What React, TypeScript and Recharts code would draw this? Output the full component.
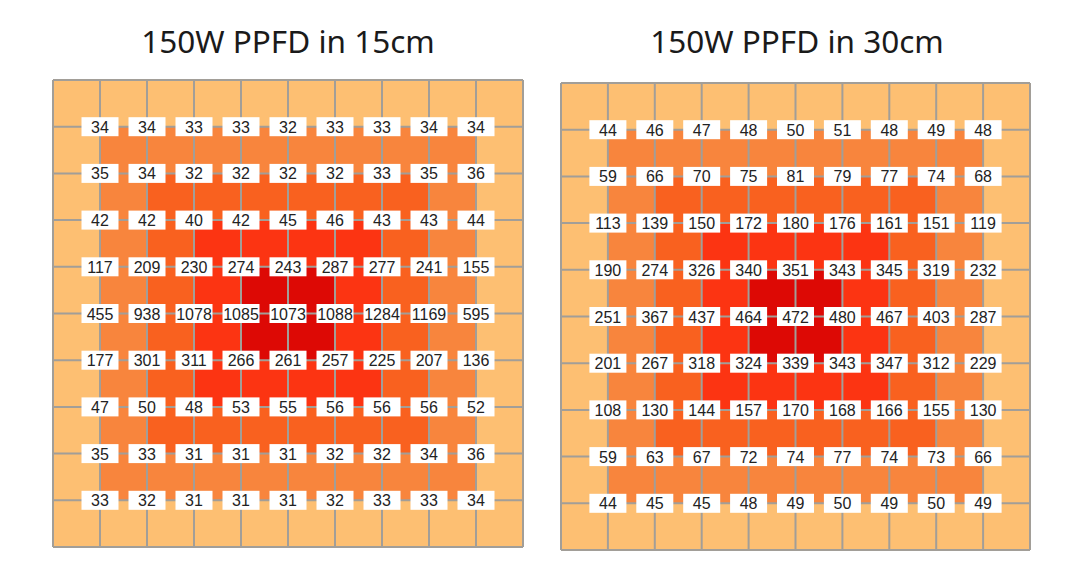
import React from 'react';
import { ScatterChart, XAxis, YAxis, ReferenceArea, ReferenceLine, Scatter } from 'recharts';

// Titles
const TITLES = ['150W PPFD in 15cm', '150W PPFD in 30cm'];

// Grid boundaries (data units)
const GRID_LINES = [0, 1, 2, 3, 4, 5, 6, 7, 8, 9, 10];

// PPFD readings at the interior intersections, rows top -> bottom
const VALUES_15CM = [
  [34, 34, 33, 33, 32, 33, 33, 34, 34],
  [35, 34, 32, 32, 32, 32, 33, 35, 36],
  [42, 42, 40, 42, 45, 46, 43, 43, 44],
  [117, 209, 230, 274, 243, 287, 277, 241, 155],
  [455, 938, 1078, 1085, 1073, 1088, 1284, 1169, 595],
  [177, 301, 311, 266, 261, 257, 225, 207, 136],
  [47, 50, 48, 53, 55, 56, 56, 56, 52],
  [35, 33, 31, 31, 31, 32, 32, 34, 36],
  [33, 32, 31, 31, 31, 32, 33, 33, 34],
];

const VALUES_30CM = [
  [44, 46, 47, 48, 50, 51, 48, 49, 48],
  [59, 66, 70, 75, 81, 79, 77, 74, 68],
  [113, 139, 150, 172, 180, 176, 161, 151, 119],
  [190, 274, 326, 340, 351, 343, 345, 319, 232],
  [251, 367, 437, 464, 472, 480, 467, 403, 287],
  [201, 267, 318, 324, 339, 343, 347, 312, 229],
  [108, 130, 144, 157, 170, 168, 166, 155, 130],
  [59, 63, 67, 72, 74, 77, 74, 73, 66],
  [44, 45, 45, 48, 49, 50, 49, 50, 49],
];

// Colour level of each background cell (10 x 10)
const LEVELS_15CM = [
  [0, 0, 0, 0, 0, 0, 0, 0, 0, 0],
  [0, 1, 1, 1, 1, 1, 1, 1, 1, 0],
  [0, 1, 2, 2, 2, 2, 2, 2, 1, 0],
  [0, 1, 2, 3, 3, 3, 3, 2, 1, 0],
  [0, 1, 2, 3, 4, 4, 3, 2, 1, 0],
  [0, 1, 2, 3, 4, 4, 3, 2, 1, 0],
  [0, 1, 2, 3, 3, 3, 3, 2, 1, 0],
  [0, 1, 2, 2, 2, 2, 2, 2, 1, 0],
  [0, 1, 1, 1, 1, 1, 1, 1, 1, 0],
  [0, 0, 0, 0, 0, 0, 0, 0, 0, 0],
];

const LEVELS_30CM = [
  [0, 0, 0, 0, 0, 0, 0, 0, 0, 0],
  [0, 1, 1, 1, 1, 1, 1, 1, 1, 0],
  [0, 1, 2, 2, 2, 2, 2, 2, 1, 0],
  [0, 1, 2, 3, 3, 3, 3, 2, 1, 0],
  [0, 1, 2, 3, 4, 4, 3, 2, 1, 0],
  [0, 1, 2, 3, 4, 4, 3, 2, 1, 0],
  [0, 1, 2, 3, 3, 3, 3, 2, 1, 0],
  [0, 1, 2, 2, 2, 2, 2, 2, 1, 0],
  [0, 1, 1, 1, 1, 1, 1, 1, 1, 0],
  [0, 0, 0, 0, 0, 0, 0, 0, 0, 0],
];

const LEVEL_COLORS = ['#FDBF72', '#F8853D', '#F9611F', '#FC3412', '#DD0905'];
const LINE_COLOR = '#A29E98';

const LabelShape = (props: any) => {
  const { cx, cy, payload } = props;
  if (cx == null || cy == null) return <g />;
  return (
    <g>
      <rect x={cx - 18.5} y={cy - 9.5} width={37} height={19} fill="#ffffff" />
      <text
        x={cx}
        y={cy + 6}
        textAnchor="middle"
        fontFamily="'Liberation Sans Narrow', 'Liberation Sans', Arial, sans-serif"
        fontSize={16}
        fill="#222222"
      >
        {payload.v}
      </text>
    </g>
  );
};

function Panel({ values, levels, width, height }: { values: number[][]; levels: number[][]; width: number; height: number }) {
  const points = values.flatMap((row, r) => row.map((v, c) => ({ x: c + 1, y: r + 1, v })));
  return (
    <ScatterChart width={width} height={height} margin={{ top: 1, right: 1, bottom: 1, left: 1 }}>
      <XAxis type="number" dataKey="x" domain={[0, 10]} hide allowDataOverflow />
      <YAxis type="number" dataKey="y" domain={[0, 10]} reversed hide allowDataOverflow />
      {levels.flatMap((row, r) =>
        row.map((lv, c) => (
          <ReferenceArea
            key={`a-${r}-${c}`}
            x1={c}
            x2={c + 1}
            y1={r}
            y2={r + 1}
            fill={LEVEL_COLORS[lv]}
            fillOpacity={1}
            stroke="none"
            ifOverflow="visible"
          />
        ))
      )}
      {GRID_LINES.map((g) => (
        <ReferenceLine key={`v-${g}`} x={g} stroke={LINE_COLOR} strokeWidth={2} ifOverflow="visible" />
      ))}
      {GRID_LINES.map((g) => (
        <ReferenceLine key={`h-${g}`} y={g} stroke={LINE_COLOR} strokeWidth={2} ifOverflow="visible" />
      ))}
      <Scatter data={points} isAnimationActive={false} shape={LabelShape} />
    </ScatterChart>
  );
}

export default function App() {
  return (
    <div style={{ position: 'absolute', left: 0, top: 0, width: 1074, height: 573, background: '#ffffff', overflow: 'hidden' }}>
      <svg width={1074} height={70} style={{ position: 'absolute', left: 0, top: 0 }}>
        <text x={288} y={53} textAnchor="middle" fontFamily="'Noto Sans', sans-serif" fontSize={31.5} fill="#1a1a1a">
          {TITLES[0]}
        </text>
        <text x={797} y={53} textAnchor="middle" fontFamily="'Noto Sans', sans-serif" fontSize={31.5} fill="#1a1a1a">
          {TITLES[1]}
        </text>
      </svg>
      <div style={{ position: 'absolute', left: 52, top: 79 }}>
        <Panel values={VALUES_15CM} levels={LEVELS_15CM} width={472} height={469} />
      </div>
      <div style={{ position: 'absolute', left: 560, top: 82 }}>
        <Panel values={VALUES_30CM} levels={LEVELS_30CM} width={471} height={469} />
      </div>
    </div>
  );
}
